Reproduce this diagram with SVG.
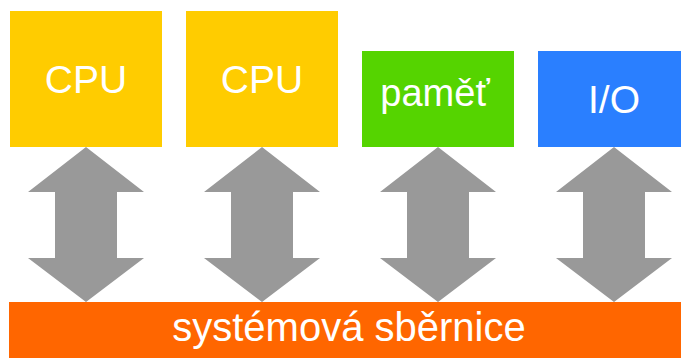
<svg xmlns="http://www.w3.org/2000/svg" width="681" height="358" viewBox="0 0 681 358">
  <defs>
    <style>
      .lbl { font-family: "Liberation Sans", Arial, sans-serif; fill: #ffffff; text-anchor: middle; }
      .conn { fill: #999999; }
    </style>
    <!-- double-headed bus arrow, centred on x=0 -->
    <path id="dbl" d="M0,147 L58,192 L31,192 L31,258 L58,258 L0,302 L-58,258 L-31,258 L-31,192 L-58,192 Z"/>
  </defs>
  <rect width="681" height="358" fill="#ffffff"/>

  <g id="connectors" class="conn">
    <use href="#dbl" x="86"/>
    <use href="#dbl" x="262"/>
    <use href="#dbl" x="438"/>
    <use href="#dbl" x="614"/>
  </g>

  <g id="cpu1">
    <rect x="10" y="11" width="152" height="136" fill="#ffcc00"/>
    <text class="lbl" x="86" y="93" font-size="39">CPU</text>
  </g>
  <g id="cpu2">
    <rect x="186" y="11" width="152" height="136" fill="#ffcc00"/>
    <text class="lbl" x="262" y="93" font-size="39">CPU</text>
  </g>
  <g id="memory">
    <rect x="362" y="51" width="152" height="96" fill="#55d400"/>
    <text class="lbl" x="435" y="106" font-size="38">paměť</text>
  </g>
  <g id="io">
    <rect x="538" y="51" width="152" height="96" fill="#2a7fff"/>
    <text class="lbl" x="614" y="113" font-size="39">I/O</text>
  </g>
  <g id="bus">
    <rect x="9" y="302" width="672" height="56" fill="#ff6600"/>
    <text class="lbl" x="349" y="341" font-size="40">systémová sběrnice</text>
  </g>
</svg>
